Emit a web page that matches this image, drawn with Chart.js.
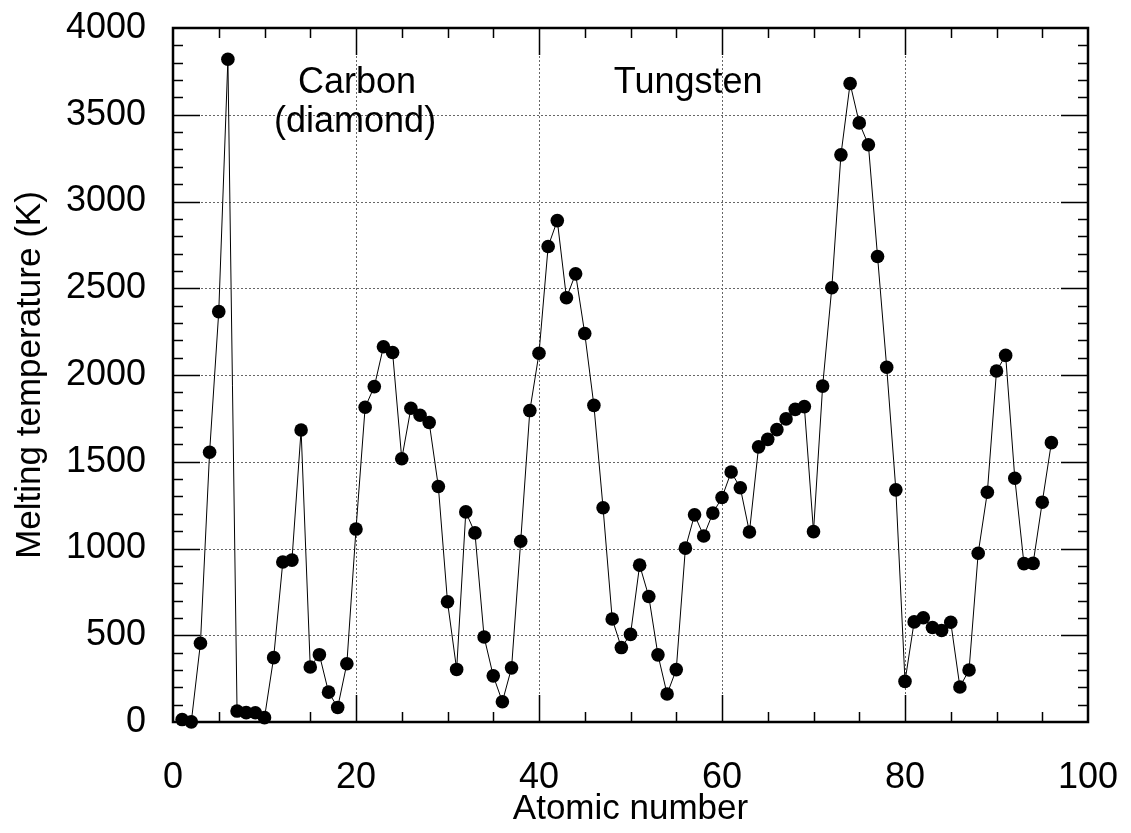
<!DOCTYPE html>
<html>
<head>
<meta charset="utf-8">
<script src="https://cdn.jsdelivr.net/npm/chart.js@4.4.1/dist/chart.umd.min.js"></script>
<style>
  html, body { margin: 0; padding: 0; background: #fff; }
  #wrap { width: 1131px; height: 833px; position: relative; }
</style>
</head>
<body>
<div id="wrap"><canvas id="grafico"></canvas></div>
<script>
// numero atomico (Z) de cada elemento
const numeroAtomico = [
  1, 2, 3, 4, 5, 6, 7, 8, 9, 10,
  11, 12, 13, 14, 15, 16, 17, 18, 19, 20,
  21, 22, 23, 24, 25, 26, 27, 28, 29, 30,
  31, 32, 33, 34, 35, 36, 37, 38, 39, 40,
  41, 42, 43, 44, 45, 46, 47, 48, 49, 50,
  51, 52, 53, 54, 55, 56, 57, 58, 59, 60,
  61, 62, 63, 64, 65, 66, 67, 68, 69, 70,
  71, 72, 73, 74, 75, 76, 77, 78, 79, 80,
  81, 82, 83, 84, 85, 86, 87, 88, 89, 90,
  91, 92, 93, 94, 95, 96
];

// temperatura de fusao (K)
const temperaturaFusao = [
  14, 1, 454, 1555, 2365, 3820, 63, 54, 53, 25,
  371, 922, 933, 1683, 317, 388, 172, 84, 336, 1112,
  1814, 1933, 2163, 2130, 1517, 1808, 1768, 1726, 1357, 693,
  303, 1211, 1090, 490, 266, 117, 312, 1042, 1795, 2125,
  2741, 2890, 2445, 2583, 2239, 1825, 1235, 594, 429, 505,
  904, 723, 387, 161, 302, 1002, 1194, 1072, 1204, 1294,
  1441, 1350, 1095, 1586, 1629, 1685, 1747, 1802, 1818, 1097,
  1936, 2503, 3269, 3680, 3453, 3327, 2683, 2045, 1338, 234,
  577, 601, 545, 527, 575, 202, 300, 973, 1324, 2023,
  2113, 1405, 913, 914, 1267, 1610
];

const xTicks = [0, 20, 40, 60, 80, 100];
const yTicks = [0, 500, 1000, 1500, 2000, 2500, 3000, 3500, 4000];

const fonte = "'Liberation Sans', Arial, Helvetica, sans-serif";

// grade pontilhada + ticks internos + moldura
const molduraPlugin = {
  id: "moldura",
  beforeDatasetsDraw(chart) {
    const { ctx, chartArea: a, scales: { x, y } } = chart;
    ctx.save();
    ctx.strokeStyle = "#666";
    ctx.lineWidth = 1;
    ctx.setLineDash([2, 2]);
    xTicks.slice(1, -1).forEach(v => {
      const px = Math.round(x.getPixelForValue(v)) + 0.5;
      ctx.beginPath(); ctx.moveTo(px, a.top); ctx.lineTo(px, a.bottom); ctx.stroke();
    });
    yTicks.slice(1, -1).forEach(v => {
      const py = Math.round(y.getPixelForValue(v)) + 0.5;
      ctx.beginPath(); ctx.moveTo(a.left, py); ctx.lineTo(a.right, py); ctx.stroke();
    });
    ctx.restore();
  },
  afterDatasetsDraw(chart) {
    const { ctx, chartArea: a, scales: { x, y } } = chart;
    ctx.save();
    ctx.strokeStyle = "#000";
    ctx.lineWidth = 1.5;
    ctx.setLineDash([]);
    for (let v = 5; v < 100; v += 5) {
      const px = Math.round(x.getPixelForValue(v)) + 0.5;
      const len = v % 20 === 0 ? 27 : 10;
      ctx.beginPath();
      ctx.moveTo(px, a.bottom); ctx.lineTo(px, a.bottom - len);
      ctx.moveTo(px, a.top); ctx.lineTo(px, a.top + len);
      ctx.stroke();
    }
    for (let v = 100; v < 4000; v += 100) {
      const py = Math.round(y.getPixelForValue(v)) + 0.5;
      const len = v % 500 === 0 ? 27 : 10;
      ctx.beginPath();
      ctx.moveTo(a.left, py); ctx.lineTo(a.left + len, py);
      ctx.moveTo(a.right, py); ctx.lineTo(a.right - len, py);
      ctx.stroke();
    }
    ctx.lineWidth = 2.5;
    ctx.strokeRect(a.left, a.top, a.right - a.left, a.bottom - a.top);

    // rotulos dentro do grafico
    ctx.fillStyle = "#000";
    ctx.font = "36px " + fonte;
    ctx.textAlign = "center";
    ctx.textBaseline = "alphabetic";
    ctx.fillText("Carbon", x.getPixelForValue(20.1), y.getPixelForValue(3628));
    ctx.fillText("(diamond)", x.getPixelForValue(19.9), y.getPixelForValue(3400));
    ctx.fillText("Tungsten", x.getPixelForValue(56.3), y.getPixelForValue(3628));
    ctx.restore();
  }
};

const pontos = numeroAtomico.map((z, i) => ({ x: z, y: temperaturaFusao[i] }));

new Chart(document.getElementById("grafico"), {
  type: "line",
  data: {
    datasets: [{
      data: pontos,
      borderColor: "#000",
      borderWidth: 1,
      backgroundColor: "#000",
      pointRadius: 6.8,
      pointBorderWidth: 0,
      pointHoverRadius: 6.8,
      tension: 0,
      clip: false
    }]
  },
  options: {
    responsive: true,
    maintainAspectRatio: false,
    animation: false,
    events: [],
    layout: { padding: { top: 28, right: 43, left: 0, bottom: 0 } },
    plugins: { legend: { display: false }, tooltip: { enabled: false } },
    scales: {
      x: {
        type: "linear",
        min: 0,
        max: 100,
        afterBuildTicks(scale) { scale.ticks = xTicks.map(v => ({ value: v })); },
        afterFit(scale) {
          scale.height = 111;
          scale.paddingLeft = 0;
          scale.paddingRight = 0;
        },
        grid: { display: false, drawTicks: false },
        border: { display: false },
        ticks: { color: "#000", padding: 34, maxRotation: 0, callback: v => String(v), font: { family: fonte, size: 36 } },
        title: { display: true, text: "Atomic number", color: "#000", padding: { top: 0, bottom: 3 }, font: { family: fonte, size: 35 } }
      },
      y: {
        type: "linear",
        min: 0,
        max: 4000,
        afterBuildTicks(scale) { scale.ticks = yTicks.map(v => ({ value: v })); },
        afterFit(scale) {
          scale.width = 173;
          scale.paddingTop = 0;
          scale.paddingBottom = 0;
        },
        grid: { display: false, drawTicks: false },
        border: { display: false },
        ticks: { color: "#000", padding: 27, callback: v => String(v), font: { family: fonte, size: 36 } },
        title: { display: true, text: "Melting temperature (K)", color: "#000", padding: { top: 9, bottom: 0 }, font: { family: fonte, size: 35 } }
      }
    }
  },
  plugins: [molduraPlugin]
});
</script>
</body>
</html>
